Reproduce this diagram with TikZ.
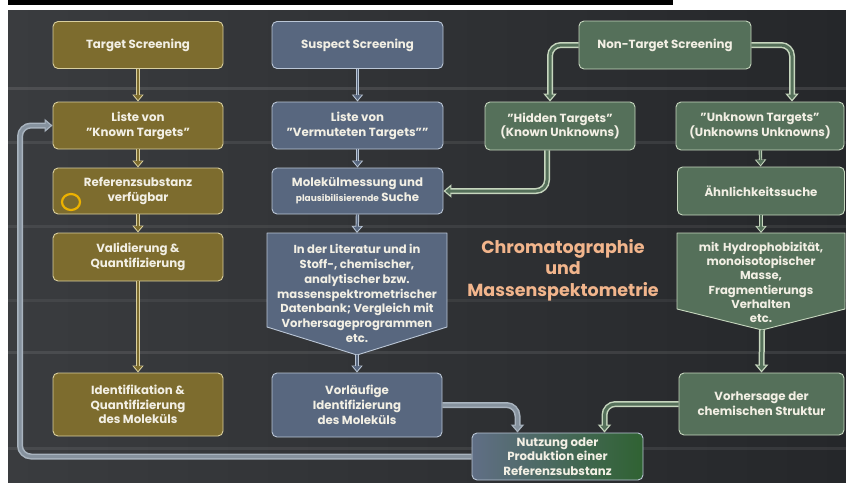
\documentclass[tikz,border=0pt]{standalone}
\usepackage{fontspec}
\setmainfont{Poppins}
\usetikzlibrary{arrows.meta,calc}
\definecolor{boardL}{HTML}{3A3C3F}
\definecolor{boardR}{HTML}{25272A}
\definecolor{olivefill}{HTML}{7D6C2E}
\definecolor{oliveline}{HTML}{D9CF9E}
\definecolor{bluefill}{HTML}{58677F}
\definecolor{blueline}{HTML}{BAC6D6}
\definecolor{greenfill}{HTML}{55705A}
\definecolor{greenline}{HTML}{C6D6BE}
\definecolor{chalk}{HTML}{F2EFE4}
\definecolor{peach}{HTML}{F2B58C}
\definecolor{fbline}{HTML}{A9B4BF}
\definecolor{fbfill}{HTML}{86929E}
\definecolor{ring}{HTML}{EDB200}
\tikzset{
  box/.style={rounded corners=5pt, line width=0.9pt, text=chalk, align=center,
    font=\fontsize{11.8}{14.8}\selectfont\bfseries, inner sep=0pt},
  olivebox/.style={box, draw=oliveline, fill=olivefill, minimum width=170pt},
  bluebox/.style={box, draw=blueline, fill=bluefill, minimum width=171pt},
  greenbox/.style={box, draw=greenline, fill=greenfill},
  pent/.style={line width=0.9pt, line join=round},
  txt/.style={text=chalk, align=center, font=\fontsize{11.6}{14.8}\selectfont\bfseries, inner sep=0pt},
  harrow/.style 2 args={preaction={draw=#1, line width=3.4pt, shorten >=0pt, -{Triangle[length=7pt,width=11pt]}},
    draw=#2, line width=1.5pt, shorten >=1.6pt, -{Triangle[length=4.8pt,width=7.5pt]}},
  bigarrow/.style 2 args={preaction={draw=#1, line width=6pt, shorten >=0pt, -{Triangle[length=8pt,width=13pt]}},
    draw=#2, line width=3pt, shorten >=2pt, -{Triangle[length=5pt,width=8pt]}, rounded corners=11pt},
}
\begin{document}
\begin{tikzpicture}[x=1pt, y=-1pt]
\useasboundingbox (0,0) rectangle (846,482);
\fill[white] (0,0) rectangle (846,482);
\fill[black] (8,0) rectangle (673,5);
\shade[left color=boardL, right color=boardR] (8,10) rectangle (846,482);
% chalk streaks
\foreach \yy/\op in {88/0.10,142/0.08,226/0.07,300/0.06,352/0.09,448/0.08}{
  \draw[white, opacity=\op, line width=3pt] (8,\yy) -- (846,\yy);
}

% column 1 (target)
\node[olivebox, minimum height=47pt] (ts) at (138,45) {Target Screening};
\node[olivebox, minimum height=47pt] (kt) at (138,125.5) {Liste von\\"Known Targets"};
\node[olivebox, minimum height=46pt] (rs) at (138,191) {Referenzsubstanz\\verfügbar};
\node[olivebox, minimum height=48pt] (vq) at (138,257) {Validierung \&\\Quantifizierung};
\node[olivebox, minimum height=63pt] (iq) at (138,404.5) {Identifikation \&\\Quantifizierung\\des Moleküls};
\draw[ring, line width=2.2pt] (71,202) ellipse [x radius=9pt, y radius=8pt];

% column 2 (suspect)
\node[bluebox, minimum height=47pt] (ss) at (357.5,45) {Suspect Screening};
\node[bluebox, minimum height=47pt] (vt) at (357.5,125.5) {Liste von\\"Vermuteten Targets""};
\node[bluebox, minimum height=46pt] (mm) at (357.5,191) {Molekülmessung und\\{\fontsize{9}{10}\selectfont plausibilisierende} Suche};
\filldraw[pent, draw=blueline, fill=bluefill] (267,233) -- (447,233) -- (447,327) -- (357,355) -- (267,327) -- cycle;
\coordinate (littop) at (357,233);
\coordinate (litpt) at (357,355);
\node[txt] (lit) at (357,293.5) {In der Literatur und in\\Stoff-, chemischer,\\analytischer bzw.\\massenspektrometrischer\\Datenbank; Vergleich mit\\Vorhersageprogrammen\\etc.};
\node[bluebox, minimum width=170pt, minimum height=64pt] (vi) at (357,405) {Vorläufige\\Identifizierung\\des Moleküls};

% column 3 (non-target)
\node[greenbox, minimum width=172pt, minimum height=48pt] (nts) at (665,45) {Non-Target Screening};
\node[greenbox, minimum width=150pt, minimum height=48pt] (ht) at (560,126) {"Hidden Targets"\\(Known Unknowns)};
\node[greenbox, minimum width=168pt, minimum height=48pt] (ut) at (760,126) {"Unknown Targets"\\(Unknowns Unknowns)};
\node[greenbox, minimum width=167pt, minimum height=48pt] (ae) at (761,191) {Ähnlichkeitssuche};
\filldraw[pent, draw=greenline, fill=greenfill] (677,233) -- (845,233) -- (845,309) -- (762,330) -- (677,309) -- cycle;
\coordinate (mittop) at (761,233);
\coordinate (mitpt) at (762,330);
\node[txt, text width=168pt, font=\fontsize{11.6}{14.3}\selectfont\bfseries] (mit) at (761,282.5) {mit Hydrophobizität,\\monoisotopischer\\Masse,\\Fragmentierungs\\Verhalten\\etc.};
\node[greenbox, minimum width=165pt, minimum height=62pt] (vs) at (761.5,404) {Vorhersage der\\chemischen Struktur};
\node[box, draw=blueline, left color=bluefill!95!white, right color=greenfill!80!green!70!black, minimum width=171pt, minimum height=47pt] (nu) at (557.5,456.5) {Nutzung oder\\Produktion einer\\Referenzsubstanz};

% title
\node[text=peach, align=center, font=\fontsize{17.5}{21.5}\selectfont\bfseries] (title) at (563,270) {Chromatographie\\und\\Massenspektometrie};

% arrows column 1
\draw[harrow={oliveline}{olivefill}] (ts) -- (kt);
\draw[harrow={oliveline}{olivefill}] (kt) -- (rs);
\draw[harrow={oliveline}{olivefill}] (rs) -- (vq);
\draw[harrow={oliveline}{olivefill}] (vq) -- (iq);
% arrows column 2
\draw[harrow={blueline}{bluefill}] (ss) -- (vt);
\draw[harrow={blueline}{bluefill}] (vt) -- (mm);
\draw[harrow={blueline}{bluefill}] (mm.south) -- (littop);
\draw[harrow={blueline}{bluefill}] (litpt) -- (vi.north);
% arrows column 3
\draw[bigarrow={greenline}{greenfill}] (nts.west) -| ([xshift=-10pt]ht.north);
\draw[bigarrow={greenline}{greenfill}] (nts.east) -| ([xshift=32pt]ut.north);
\draw[bigarrow={greenline}{greenfill}] ([xshift=-13pt]ht.south) |- (mm.east);
\draw[harrow={greenline}{greenfill}] (ut) -- (ae);
\draw[harrow={greenline}{greenfill}] (ae.south) -- (mittop);
\draw[bigarrow={greenline}{greenfill}, rounded corners=0pt] (mitpt) -- (vs.north);
\draw[bigarrow={greenline}{greenfill}] (vs.west) -| ([xshift=47pt]nu.north);
\draw[bigarrow={fbline}{fbfill}] (vi.east) -| ([xshift=-40pt]nu.north);
% feedback loop
\coordinate (fbc) at (20,125.5);
\draw[bigarrow={fbline}{fbfill}] (nu.west) -| (fbc) -- (kt.west);
\end{tikzpicture}
\end{document}
